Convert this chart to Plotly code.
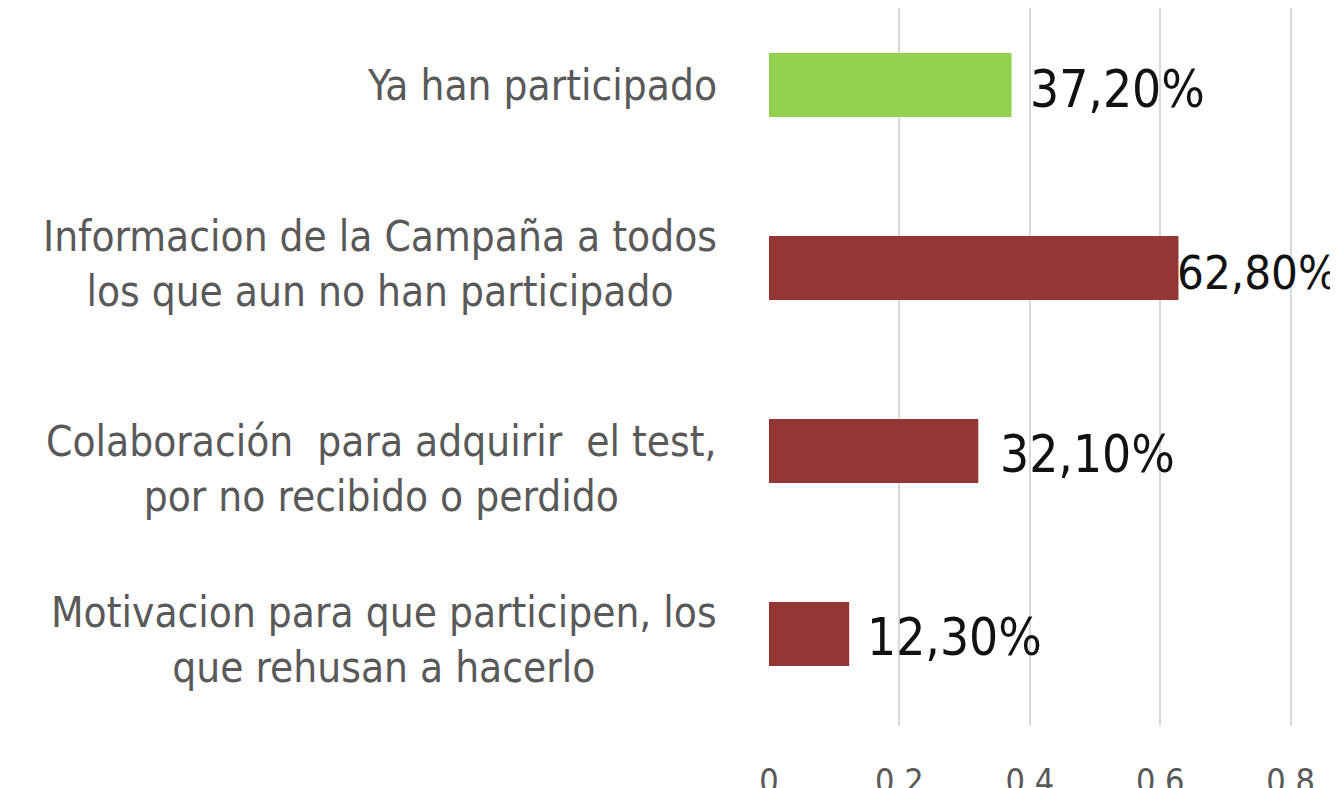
import plotly.graph_objects as go

categories = [
    "Ya han participado",
    "Informacion de la Campaña a todos<br>los que aun no han participado",
    "Colaboración  para adquirir  el test,<br>por no recibido o perdido",
    "Motivacion para que participen, los<br>que rehusan a hacerlo",
]
values = [0.372, 0.628, 0.321, 0.123]
value_labels = ["37,20%", "62,80%", "32,10%", "12,30%"]
tick_vals = [0, 0.2, 0.4, 0.6, 0.8]
tick_text = ["0", "0.2", "0.4", "0.6", "0.8"]

bar_colors = ["#92D050", "#943634", "#943634", "#943634"]
label_yshift = [0, 4, -18, -6]
value_xshift = [16, -3, 20, 16]
value_size = [51, 47, 51, 51]

LABEL_FONT = "DejaVu Sans Condensed, Liberation Sans, sans-serif"
VALUE_FONT = "DejaVu Sans Condensed, Liberation Sans, sans-serif"

fig = go.Figure()
fig.add_trace(go.Bar(
    y=list(range(len(categories))),
    x=values,
    orientation="h",
    marker=dict(color=bar_colors, line=dict(width=0)),
    width=0.35,
    hoverinfo="skip",
))

for i, (cat, v, lab) in enumerate(zip(categories, values, value_labels)):
    fig.add_annotation(
        x=0, y=i, xref="x", yref="y", text=cat, showarrow=False,
        xanchor="right", yanchor="middle", align="center",
        xshift=-50, yshift=label_yshift[i],
        font=dict(family=LABEL_FONT, size=42, color="#595959"),
    )
    fig.add_annotation(
        x=v, y=i, xref="x", yref="y", text=lab, showarrow=False,
        xanchor="left", yanchor="middle", xshift=value_xshift[i], yshift=-4,
        font=dict(family=VALUE_FONT, size=value_size[i], color="#111111"),
    )

fig.update_layout(
    width=1330, height=780,
    margin=dict(l=761, r=0, t=0, b=62, autoexpand=False),
    plot_bgcolor="white", paper_bgcolor="white",
    showlegend=False,
    xaxis=dict(
        range=[0, 0.8727], tickvals=tick_vals, ticktext=tick_text,
        showgrid=True, gridcolor="#D9D9D9", gridwidth=2, zeroline=False,
        showline=False, ticks="", automargin=False,
        tickfont=dict(family=LABEL_FONT, size=34, color="#595959"),
        ticklabelstandoff=32,
    ),
    yaxis=dict(
        range=[3.503, -0.421], showticklabels=False, showgrid=False,
        zeroline=False, showline=False, ticks="", automargin=False,
    ),
)

fig.write_html("out.html")
